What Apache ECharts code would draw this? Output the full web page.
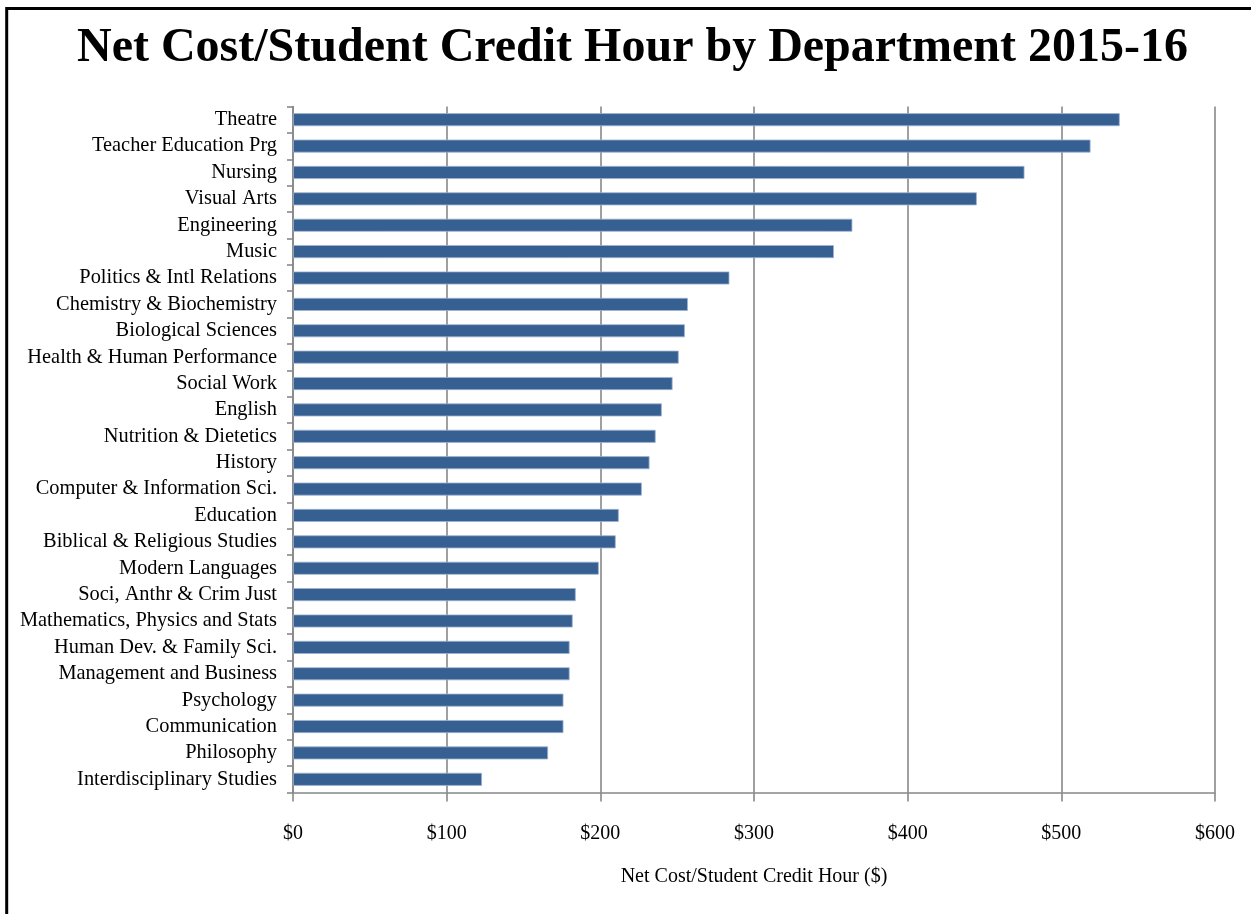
<!DOCTYPE html>
<html>
<head>
<meta charset="utf-8">
<script src="https://cdn.jsdelivr.net/npm/echarts@6/dist/echarts.min.js"></script>
<style>
html,body{margin:0;padding:0;background:#fff;}
#c{width:1251px;height:914px;}
</style>
</head>
<body>
<div id="c"></div>
<script>
const categories = [
  "Theatre","Teacher Education Prg","Nursing","Visual Arts","Engineering","Music",
  "Politics & Intl Relations","Chemistry & Biochemistry","Biological Sciences",
  "Health & Human Performance","Social Work","English","Nutrition & Dietetics","History",
  "Computer & Information Sci.","Education","Biblical & Religious Studies","Modern Languages",
  "Soci, Anthr & Crim Just","Mathematics, Physics and Stats","Human Dev. & Family Sci.",
  "Management and Business","Psychology","Communication","Philosophy","Interdisciplinary Studies"
];
const values = [
  538, 519, 476, 445, 364, 352,
  284, 257, 255,
  251, 247, 240, 236, 232,
  227, 212, 210, 199,
  184, 182, 180,
  180, 176, 176, 166, 123
];
const xTicks = [0, 100, 200, 300, 400, 500, 600];

const chart = echarts.init(document.getElementById('c'), null, {renderer: 'canvas'});
const serif = '"Liberation Serif", "Times New Roman", serif';
chart.setOption({
  animation: false,
  backgroundColor: '#ffffff',
  title: {
    text: 'Net Cost/Student Credit Hour by Department 2015-16',
    left: 72,
    top: 20,
    textStyle: {fontFamily: serif, fontWeight: 'bold', fontSize: 48, color: '#000'}
  },
  graphic: [{
    type: 'rect',
    shape: {x: 6.7, y: 8.5, width: 1400, height: 1100},
    style: {fill: 'none', stroke: '#000', lineWidth: 3},
    silent: true
  }],
  grid: {left: 293, right: 36, top: 106.5, bottom: 121.5, containLabel: false},
  xAxis: {
    type: 'value',
    min: xTicks[0],
    max: xTicks[xTicks.length - 1],
    interval: 100,
    name: 'Net Cost/Student Credit Hour ($)',
    nameLocation: 'middle',
    nameGap: 74,
    nameTextStyle: {fontFamily: serif, fontSize: 20, color: '#000'},
    axisLine: {show: true, lineStyle: {color: '#888888', width: 1.6}},
    axisTick: {show: true, length: 9, lineStyle: {color: '#888888', width: 1.6}},
    axisLabel: {
      margin: 31, fontFamily: serif, fontSize: 20, color: '#000',
      formatter: v => '$' + v
    },
    splitLine: {show: true, lineStyle: {color: '#888888', width: 1.6}}
  },
  yAxis: {
    type: 'category',
    data: categories,
    inverse: true,
    axisLine: {show: true, lineStyle: {color: '#888888', width: 1.6}},
    axisTick: {show: true, length: 6, alignWithLabel: false, lineStyle: {color: '#888888', width: 1.6}},
    axisLabel: {margin: 16, fontFamily: serif, fontSize: 20.4, color: '#000', interval: 0, padding: [11, 0, 0, 0]},
    splitLine: {show: false}
  },
  series: [{
    type: 'bar',
    data: values,
    barWidth: 13,
    itemStyle: {color: '#376092', borderColor: '#9fb3cf', borderWidth: 0.8}
  }]
});
</script>
</body>
</html>
